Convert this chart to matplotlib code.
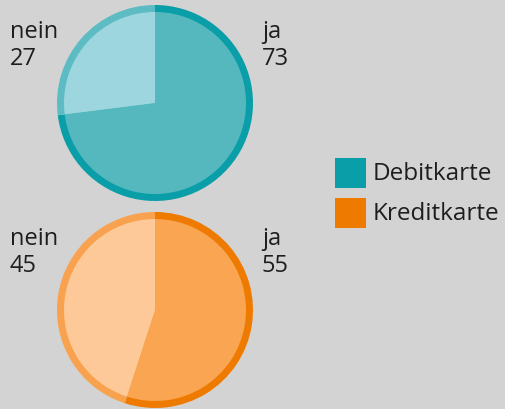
import matplotlib
matplotlib.use("Agg")
import matplotlib.pyplot as plt
from matplotlib.patches import Rectangle

plt.rcParams["font.family"] = ["Open Sans", "DejaVu Sans"]

# data
labels = ["ja", "nein"]
debit = [73, 27]
kredit = [55, 45]
legend_labels = ["Debitkarte", "Kreditkarte"]

BG = "#d3d3d3"
TEXT = "#1e1e1e"
teal = {"ring": ["#0a9ea8", "#5dbcc3"], "fill": ["#55b8be", "#9dd6df"]}
orange = {"ring": ["#ee7b00", "#f8a14f"], "fill": ["#f9a552", "#fec999"]}

fig = plt.figure(figsize=(5.06, 4.10), dpi=100, facecolor=BG)
ax = fig.add_axes([0, 0, 1, 1])


def draw_pie(values, colors, cx, cy, r, ring=7):
    # y axis is inverted below, so start at -90 and run counterclockwise
    for rad, cols in [(r, colors["ring"]), (r - ring, colors["fill"])]:
        ax.pie(values, colors=cols, startangle=-90, counterclock=True,
               center=(cx, cy), radius=rad, frame=True,
               wedgeprops=dict(linewidth=0))


draw_pie(debit, teal, 155, 104, 98)
draw_pie(kredit, orange, 155, 311, 98)
ax.set_xlim(0, 506)
ax.set_ylim(410, 0)
ax.set_aspect("equal")
ax.axis("off")

for cy, vals in [(104, debit), (311, kredit)]:
    ax.text(10, cy - 72, labels[1], fontsize=17, color=TEXT, va="center", ha="left")
    ax.text(10, cy - 45, str(vals[1]), fontsize=17, color=TEXT, va="center", ha="left")
    ax.text(262, cy - 72, labels[0], fontsize=17, color=TEXT, va="center", ha="left")
    ax.text(262, cy - 45, str(vals[0]), fontsize=17, color=TEXT, va="center", ha="left")

for i, (lab, col) in enumerate(zip(legend_labels, [teal["ring"][0], orange["ring"][0]])):
    y = 159 + i * 40
    ax.add_patch(Rectangle((335, y), 31, 30, color=col, lw=0))
    ax.text(373, y + 15, lab, fontsize=17.5, color=TEXT, va="center", ha="left")

fig.savefig("out.png", dpi=100, facecolor=BG)
